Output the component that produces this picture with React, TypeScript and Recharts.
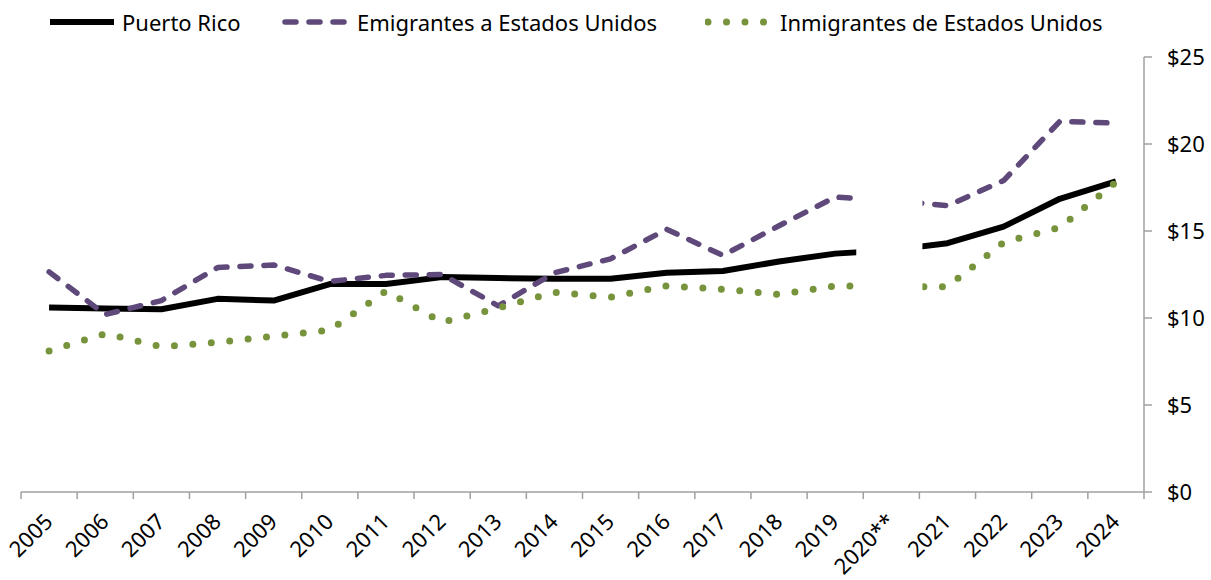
import React from 'react';
import { LineChart, Line, XAxis, YAxis, Legend, ReferenceArea } from 'recharts';

const years = ['2005','2006','2007','2008','2009','2010','2011','2012','2013','2014','2015','2016','2017','2018','2019','2020**','2021','2022','2023','2024'];
const puertoRico = [10.6,10.55,10.5,11.1,11.0,11.95,11.95,12.35,12.3,12.25,12.25,12.6,12.7,13.25,13.7,13.9,14.3,15.25,16.85,17.85];
const emigrantes = [12.65,10.2,11.0,12.9,13.05,12.1,12.45,12.5,10.7,12.6,13.4,15.1,13.6,15.3,16.95,16.77,16.45,17.9,21.3,21.2];
const inmigrantes = [8.1,9.1,8.35,8.6,8.95,9.3,11.55,9.75,10.58,11.47,11.2,11.85,11.65,11.35,11.85,11.8,11.8,14.35,15.2,17.8];
const yTicks = [0,5,10,15,20,25];
const seriesNames = ['Puerto Rico','Emigrantes a Estados Unidos','Inmigrantes de Estados Unidos'];
const maskedCategory = '2020**';

const data = years.map((y, i) => ({ year: y, pr: puertoRico[i], em: emigrantes[i], inm: inmigrantes[i] }));

const FONT = '"Noto Sans", sans-serif';
const AXIS_GRAY = '#a0a0a0';
const styles = [
  { key: 'pr', color: '#000000', width: 6, dash: undefined as string | undefined, legendX: 47 },
  { key: 'em', color: '#5f497a', width: 5.5, dash: '11 13', legendX: 282 },
  { key: 'inm', color: '#77933c', width: 7, dash: '0 18.5', legendX: 705 },
];

const W = 1211, H = 580;
const MARGIN = { top: 17, right: 5, bottom: 0, left: 21 };
const YAXIS_W = 62;
const BAND = (W - MARGIN.left - MARGIN.right - YAXIS_W) / years.length;

const LegendContent = () => (
  <div style={{ position: 'relative', width: W, height: 40, fontFamily: FONT, fontSize: 22, color: '#000' }}>
    {styles.map((s, i) => (
      <div key={s.key} style={{ position: 'absolute', left: s.legendX, top: 0, height: 40, display: 'flex', alignItems: 'center', whiteSpace: 'nowrap' }}>
        <svg width={70} height={14} style={{ display: 'block' }}>
          <line x1={3} y1={7} x2={67} y2={7} stroke={s.color} strokeWidth={s.width} strokeDasharray={s.dash} strokeLinecap={s.dash ? 'round' : 'butt'} />
        </svg>
        <span style={{ marginLeft: 5 }}>{seriesNames[i]}</span>
      </div>
    ))}
  </div>
);

const XTick = (props: any) => {
  const { x, y, payload, index } = props;
  const half = BAND / 2;
  const last = index === years.length - 1;
  return (
    <g>
      <line x1={x - half} y1={y} x2={x - half} y2={y + 7} stroke={AXIS_GRAY} strokeWidth={1.5} />
      {last && <line x1={x + half} y1={y} x2={x + half} y2={y + 7} stroke={AXIS_GRAY} strokeWidth={1.5} />}
      <text transform={`translate(${x + 5},${y + 31}) rotate(-45)`} textAnchor="end" fontFamily={FONT} fontSize={22} fill="#000">
        {payload.value}
      </text>
    </g>
  );
};

const MaskShape = (p: any) => (
  <rect x={p.x - 7} y={p.y} width={p.width + 10} height={p.height} fill="#ffffff" stroke="none" />
);

export default function App() {
  return (
    <div style={{ position: 'absolute', left: 0, top: 0, width: W, height: H, background: '#fff' }}>
      <LineChart width={W} height={H} data={data} margin={MARGIN}>
        <XAxis
          dataKey="year"
          scale="band"
          interval={0}
          tickLine={false}
          tickSize={0}
          tickMargin={0}
          height={88}
          axisLine={{ stroke: AXIS_GRAY, strokeWidth: 1.5 }}
          tick={<XTick />}
        />
        <YAxis
          orientation="right"
          domain={[0, 25]}
          ticks={yTicks}
          width={YAXIS_W}
          tickSize={8}
          tickMargin={15}
          axisLine={{ stroke: AXIS_GRAY, strokeWidth: 1.5 }}
          tickLine={{ stroke: AXIS_GRAY, strokeWidth: 1.5 }}
          tick={{ fill: '#000', fontFamily: FONT, fontSize: 22, textAnchor: 'start' }}
          tickFormatter={(v: number) => `$${v}`}
        />
        <Legend verticalAlign="top" align="left" height={40} wrapperStyle={{ top: 2, left: 0, width: W }} content={<LegendContent />} />
        {styles.map((s) => (
          <Line
            key={s.key}
            dataKey={s.key}
            type="linear"
            stroke={s.color}
            strokeWidth={s.width}
            strokeDasharray={s.dash}
            strokeLinecap={s.dash ? 'round' : 'butt'}
            strokeLinejoin="round"
            dot={false}
            activeDot={false}
            isAnimationActive={false}
          />
        ))}
        <ReferenceArea x1={maskedCategory} x2={maskedCategory} y1={1} y2={25} shape={<MaskShape />} zIndex={2000} ifOverflow="visible" />
      </LineChart>
    </div>
  );
}
